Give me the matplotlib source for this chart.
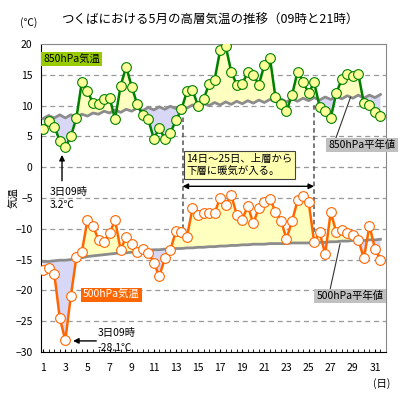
import matplotlib
matplotlib.use('Agg')
import matplotlib.pyplot as plt
import numpy as np

plt.rcParams['font.family'] = ['Noto Sans CJK JP', 'DejaVu Sans']

# 日付(09時, 21時)
days = list(range(1, 32))
hours = [9, 21]

# 850hPa気温 (09時, 21時 の順)
t850 = [6.2, 7.5, 6.6, 4.3, 3.2, 5.0, 8.0, 13.9, 12.4, 10.4,
        10.2, 11.0, 11.3, 7.8, 13.2, 16.3, 13.1, 10.2, 8.4, 7.8,
        4.6, 6.4, 4.5, 5.6, 7.6, 9.4, 12.3, 12.5, 10.0, 11.0,
        13.5, 14.2, 19.0, 19.7, 15.5, 13.4, 13.5, 15.5, 15.0, 13.4,
        16.6, 17.8, 11.4, 10.3, 9.1, 11.7, 15.5, 13.9, 12.0, 13.8,
        9.8, 9.2, 8.0, 12.0, 14.3, 15.2, 14.8, 15.1, 10.4, 10.1,
        9.0, 8.3]
# 850hPa平年値
n850_09 = [7.9, 8.0, 8.0, 8.1, 8.3, 8.6, 8.8, 8.9, 9.1, 9.2, 9.3, 9.4, 9.5, 9.6, 9.8, 10.0,
           10.1, 10.2, 10.3, 10.4, 10.5, 10.6, 10.6, 10.7, 10.8, 10.9, 11.0, 11.1, 11.2, 11.2, 11.3]
n850_21 = [8.4, 8.5, 8.5, 8.6, 8.8, 9.1, 9.3, 9.4, 9.6, 9.7, 9.8, 9.9, 10.0, 10.1, 10.3, 10.5,
           10.6, 10.7, 10.8, 10.9, 11.0, 11.1, 11.1, 11.2, 11.3, 11.4, 11.5, 11.6, 11.7, 11.7, 11.8]

# 500hPa気温
t500 = [-16.7, -16.3, -17.3, -24.5, -28.1, -20.9, -14.6, -13.7, -8.6, -9.5,
        -11.8, -12.1, -10.7, -8.6, -13.4, -11.3, -12.5, -13.7, -13.2, -13.9,
        -15.5, -17.7, -14.8, -13.4, -10.4, -10.6, -11.3, -6.7, -7.8, -7.4,
        -7.4, -7.4, -5.0, -6.1, -4.5, -7.7, -8.5, -6.3, -9.1, -6.6,
        -5.6, -5.1, -7.2, -8.7, -11.6, -8.8, -5.4, -4.6, -5.6, -12.1,
        -10.6, -14.1, -7.3, -10.5, -10.2, -10.7, -11.0, -11.8, -14.8, -9.5,
        -13.2, -15.1]
# 500hPa平年値
n500_09 = [-15.3, -15.2, -15.1, -14.8, -14.5, -14.3, -14.1, -13.9, -13.8, -13.6, -13.4, -13.3,
           -13.2, -13.1, -13.0, -12.9, -12.8, -12.7, -12.6, -12.5, -12.5, -12.4, -12.4, -12.3,
           -12.3, -12.2, -12.1, -12.0, -11.9, -11.9, -11.8]
n500_21 = [-15.3, -15.1, -15.0, -14.7, -14.4, -14.2, -14.0, -13.9, -13.7, -13.5, -13.4, -13.3,
           -13.2, -13.1, -13.0, -12.9, -12.8, -12.7, -12.6, -12.5, -12.4, -12.4, -12.3, -12.3,
           -12.2, -12.2, -12.1, -12.0, -11.9, -11.8, -11.7]

x = np.array([d + (h - 9) / 24 for d in days for h in hours])
t850 = np.array(t850)
t500 = np.array(t500)
n850 = np.array([v for pair in zip(n850_09, n850_21) for v in pair])
n500 = np.array([v for pair in zip(n500_09, n500_21) for v in pair])

YEL = '#ffffc0'
LAV = '#d8d8f6'
GRAY = '#8c8c8c'

fig = plt.figure(figsize=(4, 4), dpi=100)
ax = fig.add_axes([0.1025, 0.12, 0.8625, 0.77])
ax.set_xlim(0.8, 31.95)
ax.set_ylim(-30, 20)

for v in range(-25, 20, 5):
    ax.axhline(v, color='#999999', ls=(0, (4, 3)), lw=0.9, zorder=1)

# 平年値との差の塗り分け
for t, n in [(t850, n850), (t500, n500)]:
    ax.fill_between(x, t, n, where=t >= n, interpolate=True, color=YEL, lw=0, zorder=2)
    ax.fill_between(x, t, n, where=t < n, interpolate=True, color=LAV, lw=0, zorder=2)

ax.plot(x, n850, color=GRAY, lw=2, zorder=3)
ax.plot(x, n500, color=GRAY, lw=2, zorder=3)

ax.plot(x, t850, color='#008000', lw=1.8, marker='o', ms=7,
        mfc='#ffff99', mec='#008000', mew=0.8, zorder=5)
ax.plot(x, t500, color='#ff6600', lw=1.8, marker='o', ms=7,
        mfc='white', mec='#ff6600', mew=0.8, zorder=5)

# 14日〜25日
ax.vlines(13.6, -10.0, 9.8, colors='#555555', linestyles=(0, (3, 2)), lw=1.1, zorder=4)
ax.vlines(25.5, -10.5, 10.3, colors='#555555', linestyles=(0, (3, 2)), lw=1.1, zorder=4)
ax.annotate('', xy=(13.6, -3.1), xytext=(25.5, -3.1),
            arrowprops=dict(arrowstyle='<|-|>', color='black', lw=1, mutation_scale=8,
                            shrinkA=0, shrinkB=0), zorder=6)
ax.text(13.95, 0.4, '14日～25日、上層から\n下層に暖気が入る。', fontsize=7.5, va='center', ha='left',
        linespacing=1.3, zorder=7,
        bbox=dict(boxstyle='square,pad=0.25', fc='#ffffb0', ec='#444444', lw=0.8))

# ラベル
ax.text(0.006, 0.95, '850hPa気温', transform=ax.transAxes, fontsize=7.5, va='center', ha='left',
        zorder=7, bbox=dict(boxstyle='square,pad=0.2', fc='#99cc00', ec='none'))
ax.text(0.122, 0.185, '500hPa気温', transform=ax.transAxes, fontsize=7.5, va='center', ha='left',
        color='white', zorder=7, bbox=dict(boxstyle='square,pad=0.2', fc='#ff6600', ec='none'))

ax.annotate('850hPa平年値', xy=(28.8, 11.4), xytext=(26.8, 3.6), fontsize=7.5, va='center', ha='left',
            annotation_clip=False, zorder=7,
            bbox=dict(boxstyle='square,pad=0.2', fc='#c0c0c0', ec='none'),
            arrowprops=dict(arrowstyle='-', color='#333333', lw=0.8, shrinkA=0, shrinkB=0,
                            relpos=(0.1, 1.0)))
ax.annotate('500hPa平年値', xy=(27.85, -12.4), xytext=(25.7, -20.9), fontsize=7.5, va='center', ha='left',
            annotation_clip=False, zorder=7,
            bbox=dict(boxstyle='square,pad=0.2', fc='#c0c0c0', ec='none'),
            arrowprops=dict(arrowstyle='-', color='#333333', lw=0.8, shrinkA=0, shrinkB=0,
                            relpos=(0.2, 1.0)))

# 極値の注記
ax.annotate('', xy=(2.7, 2.0), xytext=(2.7, -2.2),
            arrowprops=dict(arrowstyle='-|>', color='black', lw=1, mutation_scale=8,
                            shrinkA=0, shrinkB=0), zorder=6)
ax.text(1.6, -4.0, '3日09時', fontsize=7.5, va='center', ha='left', zorder=7)
ax.text(1.6, -6.2, '3.2℃', fontsize=7.5, va='center', ha='left', zorder=7)
ax.annotate('', xy=(3.7, -28.2), xytext=(5.8, -28.2),
            arrowprops=dict(arrowstyle='-|>', color='black', lw=1, mutation_scale=8,
                            shrinkA=0, shrinkB=0), zorder=6)
ax.text(5.95, -26.9, '3日09時', fontsize=7.5, va='center', ha='left', zorder=7)
ax.text(5.9, -29.4, '-28.1℃', fontsize=7.5, va='center', ha='left', zorder=7)

# 軸
ax.set_yticks(range(-30, 21, 5))
ax.set_xticks(days[::2])
ax.set_xticks(np.arange(1, 32.01, 0.5), minor=True)
ax.tick_params(axis='y', length=0, labelsize=7.5, pad=6)
ax.tick_params(axis='x', which='both', direction='in', length=2.5, labelsize=7.5, pad=8, color='black')
ax.spines['left'].set_color('black')
ax.spines['bottom'].set_color('black')
ax.spines['top'].set_color('#888888')
ax.spines['right'].set_color('#888888')

fig.text(0.035, 0.505, '気温', fontsize=7.5, rotation=90, ha='center', va='center')
fig.text(0.525, 0.95, 'つくばにおける5月の高層気温の推移（09時と21時）', fontsize=9, ha='center', va='center')
fig.text(0.072, 0.943, '(℃)', fontsize=7.5, ha='center', va='center')
fig.text(0.953, 0.042, '(日)', fontsize=7.5, ha='center', va='center')

fig.savefig('out.png', dpi=100)
